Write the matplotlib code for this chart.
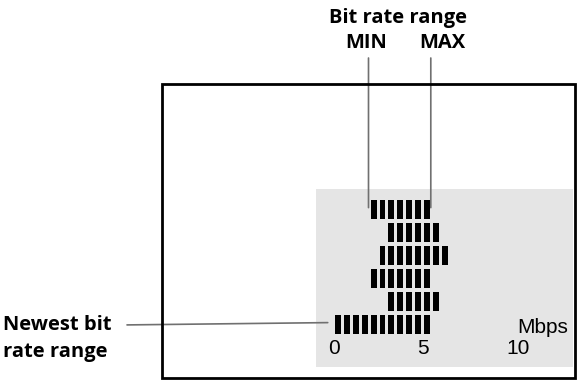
import matplotlib
matplotlib.use('Agg')
import matplotlib.pyplot as plt
import matplotlib.transforms as mtransforms
from matplotlib.patches import Rectangle

# bit rate history, oldest first (Mbps); each block is 0.5 Mbps
rate_min = [2.0, 3.0, 2.5, 2.0, 3.0, 0.0]
rate_max = [5.5, 6.0, 6.5, 5.5, 6.0, 5.5]
step = 0.5
ticks = [0, 5, 10]
tick_labels = ['0', '5', '10']

W, H = 581, 382
fig = plt.figure(figsize=(W / 100, H / 100), dpi=100)

def fx(px):
    return px / W

def fy(py):
    return 1 - py / H

bold = dict(family=['Open Sans', 'DejaVu Sans'], fontweight='bold', fontsize=14.5)
narrow = ['Liberation Sans Narrow', 'Liberation Sans']

# outer frame
fig.patches.append(Rectangle((fx(162), fy(378)), fx(575) - fx(162), fy(84) - fy(378),
                             transform=fig.transFigure, fill=False,
                             edgecolor='black', linewidth=2))

# grey display panel
ax = fig.add_axes([fx(316), fy(367), fx(573) - fx(316), fy(189) - fy(367)])
ax.set_facecolor('#e5e5e5')
for s in ax.spines.values():
    s.set_visible(False)

n = len(rate_min)
rows = list(range(n - 1, -1, -1))  # newest at the bottom (row 0)
for r, lo, hi in zip(rows, rate_min, rate_max):
    k0 = int(round(lo / step))
    k1 = int(round(hi / step))
    lefts = [k * step + 0.06 for k in range(k0, k1)]
    ax.barh([r] * len(lefts), [0.33] * len(lefts), left=lefts, height=0.83,
            color='black')

ax.set_xlim(-1.01, 13.43)
ax.set_ylim(-1.83, 5.91)
ax.set_yticks([])
ax.set_xticks(ticks)
ax.set_xticklabels(tick_labels, family=narrow, fontsize=15)
ax.tick_params(axis='x', length=0, pad=-20)
# the "10" sits a little right of its scale position in the original
lbl10 = ax.get_xticklabels()[-1]
lbl10.set_transform(lbl10.get_transform() +
                    mtransforms.ScaledTranslation(6 / 100, 0, fig.dpi_scale_trans))
ax.text(0.98, 0.22, 'Mbps', transform=ax.transAxes, ha='right', va='center',
        family=narrow, fontsize=15)

# leader lines for MIN / MAX of the oldest range
blend = mtransforms.blended_transform_factory(ax.transData, fig.transFigure)
top = rows[0]
x_lo = rate_min[0] + 0.06 - 0.12
x_hi = rate_max[0] - step + 0.06 + 0.33 + 0.05
for xv in (x_lo, x_hi):
    ax.annotate('', xy=(xv, top + 0.1), xycoords='data',
                xytext=(xv, fy(58)), textcoords=blend,
                arrowprops=dict(arrowstyle='-', color='#707070', lw=1.2,
                                shrinkA=0, shrinkB=0),
                annotation_clip=False)

# leader for newest range
ax.annotate('', xy=(rate_min[-1] - 0.35, rows[-1] + 0.1), xycoords='data',
            xytext=(fx(127), 0), textcoords=mtransforms.blended_transform_factory(
                fig.transFigure, ax.transData),
            arrowprops=dict(arrowstyle='-', color='#707070', lw=1.2,
                            shrinkA=0, shrinkB=0),
            annotation_clip=False)

fig.text(fx(398), fy(18), 'Bit rate range', ha='center', va='center', **bold)
fig.text(fx(366), fy(43), 'MIN', ha='center', va='center', **bold)
fig.text(fx(442), fy(43), 'MAX', ha='center', va='center', **bold)
fig.text(fx(3), fy(325), 'Newest bit', ha='left', va='center', **bold)
fig.text(fx(3), fy(352), 'rate range', ha='left', va='center', **bold)

fig.savefig('out.png', dpi=100)
